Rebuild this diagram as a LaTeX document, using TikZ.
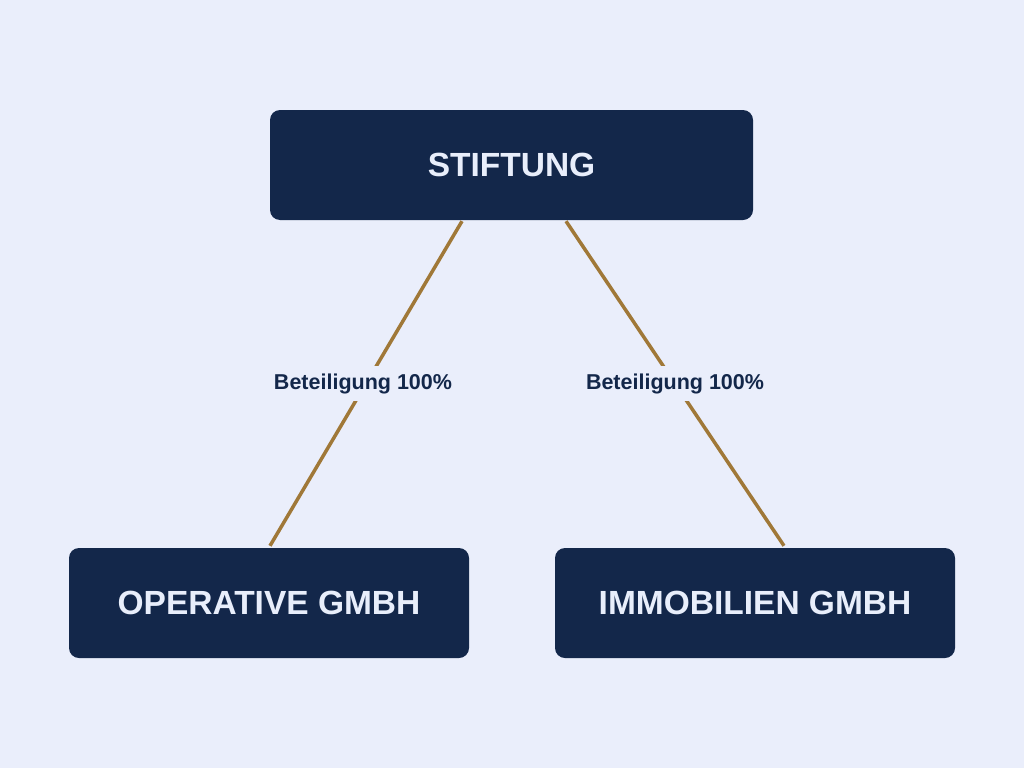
\documentclass[tikz,border=0pt]{standalone}
\usepackage{fontspec}
\setmainfont{Liberation Sans}
\usetikzlibrary{calc}
\definecolor{bg}{HTML}{EAEEFB}
\definecolor{navy}{HTML}{13274A}
\definecolor{gold}{HTML}{A07838}
\definecolor{boxtext}{HTML}{E8EEFB}
\begin{document}
\begin{tikzpicture}[x=1pt,y=-1pt,
  box/.style={fill=navy,rounded corners=10pt,minimum width=400pt,minimum height=110pt,text=boxtext,font=\fontsize{33.5}{38}\selectfont\bfseries},
  link/.style={draw=gold,line width=3.5pt},
  lbl/.style={fill=bg,text=navy,font=\fontsize{21.5}{24}\selectfont\bfseries,inner xsep=2pt,inner ysep=7pt}]
\fill[bg] (0,0) rectangle (1024,768);
\useasboundingbox (0,0) rectangle (1024,768);
\node[box,minimum width=483pt] (stift) at (511.5,165) {STIFTUNG};
\node[box] (op) at (269,603) {OPERATIVE GMBH};
\node[box] (im) at (755,603) {IMMOBILIEN GMBH};
\draw[link] ($(stift.south)+(-49.5,1)$) -- node[lbl,pos=0.5,xshift=-3pt] {Beteiligung 100\%} ($(op.north)+(1,-2)$);
\draw[link] ($(stift.south)+(54.5,1)$) -- node[lbl,pos=0.5] {Beteiligung 100\%} ($(im.north)+(29,-2)$);
\end{tikzpicture}
\end{document}
